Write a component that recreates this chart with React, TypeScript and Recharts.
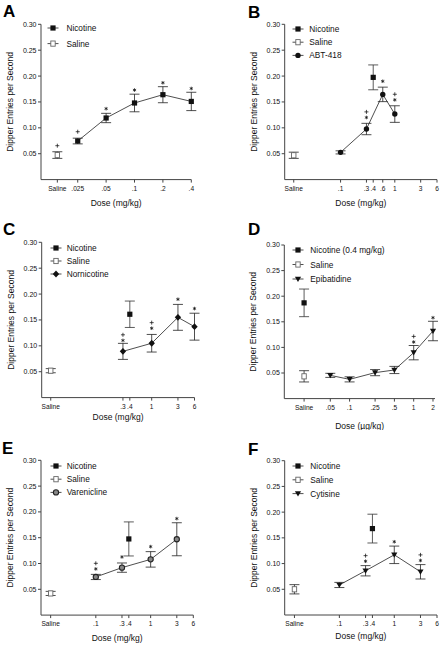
import { ComposedChart, Scatter, XAxis, YAxis, ErrorBar, Legend } from 'recharts'

const FONT = '"Liberation Sans", Arial, Helvetica, sans-serif'
const Y_TICKS = [0.05, 0.1, 0.15, 0.2, 0.25, 0.3]

// A - nicotine dose response
const A_TICKS = [0.0152, 0.025, 0.05, 0.1, 0.2, 0.4]
const A_LABELS = ['Saline', '.025', '.05', '.1', '.2', '.4']
const A_NIC = [
  { x: 0.025, y: 0.0745, e: 0.0055 },
  { x: 0.05, y: 0.119, e: 0.009 },
  { x: 0.1, y: 0.148, e: 0.017 },
  { x: 0.2, y: 0.164, e: 0.0155 },
  { x: 0.4, y: 0.151, e: 0.0177 },
]
const A_SAL = [{ x: 0.0152, y: 0.0474, e: 0.0064 }]
// s: symbols from top to bottom, y: centre of the lowest symbol
const A_SIG = [
  { x: 0.0152, y: 0.0655, s: '+' },
  { x: 0.025, y: 0.0925, s: '+' },
  { x: 0.05, y: 0.137, s: '*' },
  { x: 0.1, y: 0.173, s: '*' },
  { x: 0.2, y: 0.187, s: '*' },
  { x: 0.4, y: 0.176, s: '*' },
]

// B - ABT-418
const B_TICKS = [0.0137, 0.1, 0.3, 0.4, 0.6, 1, 3, 6]
const B_LABELS = ['Saline', '.1', '.3', '.4', '.6', '1', '3', '6']
const B_DRUG = [
  { x: 0.1, y: 0.0526, e: 0.003 },
  { x: 0.3, y: 0.0977, e: 0.011 },
  { x: 0.6, y: 0.1646, e: 0.014 },
  { x: 1, y: 0.1266, e: 0.016 },
]
const B_NIC = [{ x: 0.4, y: 0.1975, e: 0.024 }]
const B_SAL = [{ x: 0.0137, y: 0.047, e: 0.006 }]
const B_SIG = [
  { x: 0.3, y: 0.12, s: '+*' },
  { x: 0.6, y: 0.19, s: '*' },
  { x: 1, y: 0.154, s: '+*' },
]

// C - nornicotine
const C_TICKS = [0.0146, 0.3, 0.4, 1, 3, 6]
const C_LABELS = ['Saline', '.3', '.4', '1', '3', '6']
const C_DRUG = [
  { x: 0.3, y: 0.0893, e: 0.0155 },
  { x: 1, y: 0.105, e: 0.017 },
  { x: 3, y: 0.155, e: 0.025 },
  { x: 6, y: 0.137, e: 0.026 },
]
const C_NIC = [{ x: 0.4, y: 0.161, e: 0.0255 }]
const C_SAL = [{ x: 0.0146, y: 0.052, e: 0.004 }]
const C_SIG = [
  { x: 0.3, y: 0.1105, s: '+*' },
  { x: 1, y: 0.134, s: '+*' },
  { x: 3, y: 0.19, s: '*' },
  { x: 6, y: 0.172, s: '*' },
]

// D - epibatidine (ug/kg)
const D_TICKS = [0.0195, 0.05, 0.1, 0.25, 0.5, 1, 2]
const D_LABELS = ['Saline', '.05', '.1', '.25', '.5', '1', '2']
const D_DRUG = [
  { x: 0.05, y: 0.0454, e: 0.004 },
  { x: 0.1, y: 0.0376, e: 0.005 },
  { x: 0.25, y: 0.0507, e: 0.006 },
  { x: 0.5, y: 0.0559, e: 0.007 },
  { x: 1, y: 0.0897, e: 0.014 },
  { x: 2, y: 0.132, e: 0.019 },
]
const D_NIC = [{ x: 0.0195, y: 0.187, e: 0.027 }]
const D_SAL = [{ x: 0.0195, y: 0.0435, e: 0.011 }]
const D_SIG = [
  { x: 1, y: 0.1105, s: '+*' },
  { x: 2, y: 0.158, s: '*' },
]

// E - varenicline
const E_TICKS = [0.015, 0.1, 0.3, 0.4, 1, 3, 6]
const E_LABELS = ['Saline', '.1', '.3', '.4', '1', '3', '6']
const E_DRUG = [
  { x: 0.1, y: 0.0739, e: 0.005 },
  { x: 0.3, y: 0.092, e: 0.009 },
  { x: 1, y: 0.108, e: 0.015 },
  { x: 3, y: 0.147, e: 0.032 },
]
const E_NIC = [{ x: 0.4, y: 0.1476, e: 0.033 }]
const E_SAL = [{ x: 0.015, y: 0.042, e: 0.004 }]
const E_SIG = [
  { x: 0.1, y: 0.0895, s: '+*' },
  { x: 0.3, y: 0.1127, s: '*' },
  { x: 1, y: 0.1327, s: '*' },
  { x: 3, y: 0.187, s: '*' },
]

// F - cytisine
const F_TICKS = [0.0152, 0.1, 0.3, 0.4, 1, 3, 6]
const F_LABELS = ['Saline', '.1', '.3', '.4', '1', '3', '6']
const F_DRUG = [
  { x: 0.1, y: 0.0584, e: 0.005 },
  { x: 0.3, y: 0.086, e: 0.01 },
  { x: 1, y: 0.117, e: 0.017 },
  { x: 3, y: 0.084, e: 0.014 },
]
const F_NIC = [{ x: 0.4, y: 0.168, e: 0.028 }]
const F_SAL = [{ x: 0.0152, y: 0.05, e: 0.009 }]
const F_SIG = [
  { x: 0.3, y: 0.1045, s: '+*' },
  { x: 1, y: 0.1424, s: '*' },
  { x: 3, y: 0.106, s: '+*' },
]

const PANELS = [
  {
    letter: 'A', left: 0, top: 0, w: 221, h: 215, lx: 3, ly: 2.8,
    yw: 41, mt: 24.3, mr: 29.7, xh: 26, mb: 9.4, xDomain: [0.0102, 0.4],
    ticks: A_TICKS, labels: A_LABELS, xTitle: 'Dose (mg/kg)',
    drug: A_NIC, drugKind: 'square', nic: null, sal: A_SAL, sig: A_SIG,
    legend: [{ name: 'Nicotine', kind: 'square' }, { name: 'Saline', kind: 'open' }],
    legX: 53.3, legY: 27.7, legGap: 15.6, legTx: 66.7,
  },
  {
    letter: 'B', left: 222, top: 0, w: 221, h: 215, lx: 26, ly: 3.8,
    yw: 62.7, mt: 24.3, mr: 6, xh: 26, mb: 9.4, xDomain: [0.00933, 6],
    ticks: B_TICKS, labels: B_LABELS, xTitle: 'Dose (mg/kg)',
    drug: B_DRUG, drugKind: 'circle', nic: B_NIC, sal: B_SAL, sig: B_SIG,
    legend: [{ name: 'Nicotine', kind: 'square' }, { name: 'Saline', kind: 'open' }, { name: 'ABT-418', kind: 'circle' }],
    legX: 76, legY: 29, legGap: 13.2, legTx: 87.3,
  },
  {
    letter: 'C', left: 0, top: 215, w: 221, h: 215, lx: 3, ly: 5.8,
    yw: 41.7, mt: 27.3, mr: 26.5, xh: 22.1, mb: 10.3, xDomain: [0.01, 6],
    ticks: C_TICKS, labels: C_LABELS, xTitle: 'Dose (mg/kg)',
    drug: C_DRUG, drugKind: 'diamond', nic: C_NIC, sal: C_SAL, sig: C_SIG,
    legend: [{ name: 'Nicotine', kind: 'square' }, { name: 'Saline', kind: 'open' }, { name: 'Nornicotine', kind: 'diamond' }],
    legX: 56, legY: 33.3, legGap: 13, legTx: 66.7,
  },
  {
    letter: 'D', left: 222, top: 215, w: 221, h: 215, lx: 26, ly: 5.8,
    yw: 62.3, mt: 30, mr: 8, xh: 30.1, mb: 1.3, xDomain: [0.00958, 2.15],
    ticks: D_TICKS, labels: D_LABELS, xTitle: 'Dose (\u00b5g/kg)',
    drug: D_DRUG, drugKind: 'tri', nic: D_NIC, sal: D_SAL, sig: D_SIG,
    legend: [{ name: 'Nicotine (0.4 mg/kg)', kind: 'square' }, { name: 'Saline', kind: 'open' }, { name: 'Epibatidine', kind: 'tri' }],
    legX: 76, legY: 35, legGap: 14.5, legTx: 88.3,
  },
  {
    letter: 'E', left: 0, top: 430, w: 221, h: 217, lx: 2, ly: 9.8,
    yw: 41, mt: 30.3, mr: 27.7, xh: 26.2, mb: 5.7, xDomain: [0.01, 6],
    ticks: E_TICKS, labels: E_LABELS, xTitle: 'Dose (mg/kg)',
    drug: E_DRUG, drugKind: 'ring', nic: E_NIC, sal: E_SAL, sig: E_SIG,
    legend: [{ name: 'Nicotine', kind: 'square' }, { name: 'Saline', kind: 'open' }, { name: 'Varenicline', kind: 'ring' }],
    legX: 56, legY: 35.7, legGap: 13.2, legTx: 66.7,
  },
  {
    letter: 'F', left: 222, top: 430, w: 221, h: 217, lx: 26, ly: 10.8,
    yw: 62.7, mt: 30.7, mr: 6, xh: 23.7, mb: 8.3, xDomain: [0.0101, 6],
    ticks: F_TICKS, labels: F_LABELS, xTitle: 'Dose (mg/kg)',
    drug: F_DRUG, drugKind: 'tri', nic: F_NIC, sal: F_SAL, sig: F_SIG,
    legend: [{ name: 'Nicotine', kind: 'square' }, { name: 'Saline', kind: 'open' }, { name: 'Cytisine', kind: 'tri' }],
    legX: 76, legY: 35.7, legGap: 13.8, legTx: 88.3,
  },
]

function Marker({ kind, cx, cy }: { kind: string; cx: number; cy: number }) {
  switch (kind) {
    case 'square':
      return <rect x={cx - 2.6} y={cy - 2.6} width={5.2} height={5.2} fill="#111" />
    case 'open':
      return <rect x={cx - 2.2} y={cy - 2.6} width={4.4} height={5.2} fill="#fff" stroke="#666" strokeWidth={0.9} />
    case 'circle':
      return <circle cx={cx} cy={cy} r={2.7} fill="#111" />
    case 'diamond':
      return <path d={`M${cx},${cy - 3.4}L${cx + 3.2},${cy}L${cx},${cy + 3.4}L${cx - 3.2},${cy}Z`} fill="#111" />
    case 'tri':
      return <path d={`M${cx - 3.1},${cy - 2.3}L${cx + 3.1},${cy - 2.3}L${cx},${cy + 2.9}Z`} fill="#111" />
    case 'ring':
      return <circle cx={cx} cy={cy} r={2.6} fill="#888" stroke="#222" strokeWidth={1.1} />
    default:
      return <g />
  }
}

function LegendBox({ p }: { p: any }) {
  const mx = 10
  return (
    <svg width={130} height={p.legend.length * p.legGap + 8} style={{ display: 'block', overflow: 'visible' }}>
      {p.legend.map((it: any, i: number) => {
        const y = 6 + i * p.legGap
        return (
          <g key={i}>
            <line x1={mx - 5.5} x2={mx + 5.5} y1={y} y2={y} stroke="#222" strokeWidth={0.8} />
            <Marker kind={it.kind} cx={mx} cy={y} />
            <text x={p.legTx - p.legX + mx} y={y} dominantBaseline="central" fontSize={8.3} fill="#111">{it.name}</text>
          </g>
        )
      })}
    </svg>
  )
}

// significance symbols, stacked upward from the data point's position
function SigMark(s: any) {
  const syms: string[] = s.payload.s.split('')
  const n = syms.length
  return (
    <g>
      {syms.map((c, i) => {
        const cy = s.cy - (n - 1 - i) * 5.6
        return (
          <path
            key={i}
            d={c === '*'
              ? `M${s.cx},${cy - 1.8}V${cy + 1.8}M${s.cx - 1.6},${cy - 0.9}L${s.cx + 1.6},${cy + 0.9}M${s.cx - 1.6},${cy + 0.9}L${s.cx + 1.6},${cy - 0.9}`
              : `M${s.cx - 2},${cy}H${s.cx + 2}M${s.cx},${cy - 2}V${cy + 2}`}
            stroke="#111" strokeWidth={0.75} fill="none"
          />
        )
      })}
    </g>
  )
}

function Panel({ p }: { p: any }) {
  return (
    <div style={{ position: 'absolute', left: p.left, top: p.top, width: p.w, height: p.h }}>
      <div style={{ position: 'absolute', left: p.lx, top: p.ly, width: 16, fontSize: 17, lineHeight: '17px', fontWeight: 'bold', color: '#000' }}>{p.letter}</div>
      <ComposedChart width={p.w} height={p.h} margin={{ top: p.mt, right: p.mr, bottom: p.mb, left: 0 }}>
        <XAxis
          type="number" dataKey="x" scale="log" domain={p.xDomain}
          ticks={p.ticks} interval={0} tickFormatter={(v: number, i: number) => p.labels[i]}
          height={p.xh} tickSize={3} tickMargin={3.5} stroke="#444"
          tick={{ fontSize: 6.6, fill: '#111' }}
          label={(lp: any) => {
            const vb = lp.viewBox
            return <text x={vb.x + vb.width / 2} y={vb.y + vb.height} textAnchor="middle" fontSize={8.5} fill="#111">{p.xTitle}</text>
          }}
        />
        <YAxis
          type="number" dataKey="y" domain={[0, 0.3]}
          ticks={Y_TICKS} interval={0} tickFormatter={(v: number) => v.toFixed(2)}
          width={p.yw} tickSize={3} tickMargin={1.5} stroke="#444"
          tick={{ fontSize: 7, fill: '#111' }}
          label={(lp: any) => {
            const vb = lp.viewBox
            const cx = vb.x + p.yw - 31
            const cy = vb.y + vb.height / 2
            return <text x={cx} y={cy} transform={`rotate(-90 ${cx} ${cy})`} textAnchor="middle" dominantBaseline="central" fontSize={8.5} fill="#111">Dipper Entries per Second</text>
          }}
        />
        <Legend
          layout="vertical" align="center" verticalAlign="middle"
          wrapperStyle={{ left: p.legX - 10, top: p.legY - 6, width: 130, height: 50 }}
          content={() => <LegendBox p={p} />}
        />
        <Scatter data={p.sal} name="Saline" isAnimationActive={false} shape={(s: any) => <Marker kind="open" cx={s.cx} cy={s.cy} />}>
          <ErrorBar dataKey="e" direction="y" width={5} stroke="#222" strokeWidth={0.8} isAnimationActive={false} />
        </Scatter>
        {p.nic && (
          <Scatter data={p.nic} name="Nicotine" isAnimationActive={false} shape={(s: any) => <Marker kind="square" cx={s.cx} cy={s.cy} />}>
            <ErrorBar dataKey="e" direction="y" width={5} stroke="#333" strokeWidth={0.8} isAnimationActive={false} />
          </Scatter>
        )}
        <Scatter
          data={p.drug} name="drug" isAnimationActive={false}
          line={{ stroke: '#222', strokeWidth: 0.8 }} lineType="joint"
          shape={(s: any) => <Marker kind={p.drugKind} cx={s.cx} cy={s.cy} />}
        >
          <ErrorBar dataKey="e" direction="y" width={5} stroke="#222" strokeWidth={0.8} isAnimationActive={false} />
        </Scatter>
        <Scatter data={p.sig} name="sig" isAnimationActive={false} shape={SigMark} />
      </ComposedChart>
    </div>
  )
}

export default function App() {
  return (
    <div style={{ position: 'absolute', left: 0, top: 0, width: 443, height: 647, background: '#fff', fontFamily: FONT, overflow: 'hidden' }}>
      {PANELS.map((p) => <Panel key={p.letter} p={p} />)}
    </div>
  )
}
